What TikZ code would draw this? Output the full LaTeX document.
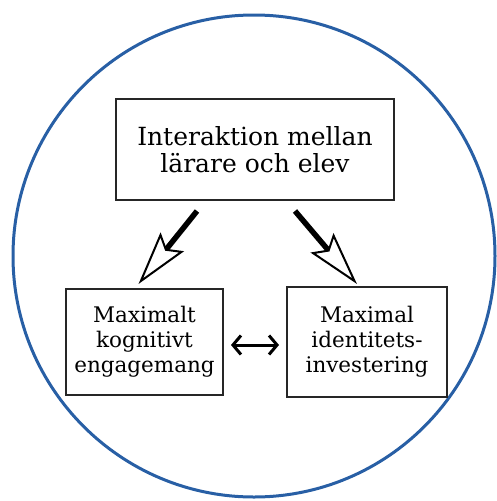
\documentclass[tikz,border=0pt]{standalone}
\usepackage{fontspec}
\setmainfont{DejaVu Serif}
\usetikzlibrary{arrows.meta, positioning, calc}

\definecolor{ringblue}{RGB}{40,95,165}

\begin{document}
\begin{tikzpicture}[
    x=1pt, y=-1pt,
    box/.style={draw=black!85, line width=2pt, align=center, inner sep=0pt},
    bigarrow/.style={line width=5.5pt, -{Stealth[open, fill=white, line width=2pt, length=54pt, width=30pt, inset=9pt]}},
    linkarrow/.style={line width=3pt, {Straight Barb[length=8pt, width=19pt]}-{Straight Barb[length=8pt, width=19pt]}},
    ]

    \useasboundingbox (0,0) rectangle (496,501);

    % ==========================================
    % Outer ring
    % ==========================================
    \draw[ringblue, line width=3pt] (254,256) circle (241);

    % ==========================================
    % Boxes
    % ==========================================
    \node[box, minimum width=278pt, minimum height=101pt, font=\fontsize{25}{27}\selectfont] (interaktion) at (255,149.5) {Interaktion mellan\\lärare och elev};

    \node[box, minimum width=157pt, minimum height=106pt, font=\fontsize{21.5}{25}\selectfont] (kognitivt) at (144.5,342) {Maximalt\\kognitivt\\engagemang};

    \node[box, minimum width=160pt, minimum height=110pt, font=\fontsize{21.5}{25}\selectfont] (identitet) at (367,342) {Maximal\\identitets-\\investering};

    % ==========================================
    % Arrows
    % ==========================================
    \draw[bigarrow] ([xshift=-58pt, yshift=-10pt]interaktion.south) -- ([xshift=-6pt, yshift=4pt]kognitivt.north);
    \draw[bigarrow] ([xshift=40pt, yshift=-10pt]interaktion.south) -- ([xshift=-10pt, yshift=2pt]identitet.north);
    \draw[linkarrow, shorten <=7pt, shorten >=7pt] ([yshift=-3pt]kognitivt.east) -- ([yshift=-3pt]identitet.west);

\end{tikzpicture}
\end{document}
